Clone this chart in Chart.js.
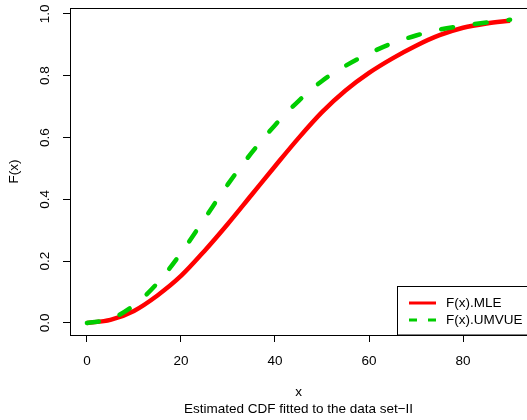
<!DOCTYPE html>
<html>
<head>
<meta charset="utf-8">
<script src="https://cdn.jsdelivr.net/npm/chart.js@4/dist/chart.umd.min.js"></script>
<style>
  body { margin: 0; background: #fff; }
  #wrap { width: 527px; height: 420px; overflow: hidden; }
</style>
</head>
<body>
<div id="wrap"><canvas id="cdfChart" width="527" height="420"></canvas></div>
<script>
// ---- data ----
const xValues = [0, 5, 10, 15, 20, 25, 30, 35, 40, 45, 50, 55, 60, 65, 70, 75, 80, 85, 90];
const mleValues = [0, 0.010, 0.039, 0.089, 0.152, 0.233, 0.321, 0.414, 0.507, 0.598, 0.682, 0.752, 0.809, 0.856, 0.897, 0.931, 0.955, 0.969, 0.978];
const umvueValues = [0, 0.013, 0.057, 0.129, 0.226, 0.337, 0.449, 0.550, 0.640, 0.718, 0.783, 0.832, 0.872, 0.905, 0.930, 0.949, 0.962, 0.972, 0.981];
const xTicks = [0, 20, 40, 60, 80];
const yTicks = [0, 0.2, 0.4, 0.6, 0.8, 1.0];
const seriesLabels = ["F(x).MLE", "F(x).UMVUE"];
const xTitle = "x";
const yTitle = "F(x)";
const subTitle = "Estimated CDF fitted to the data set\u2212II";

const FONT = "'Liberation Sans', Arial, sans-serif";
const FSIZE = 13.5;
const RED = "#ff0000";
const GREEN = "#00cd00";

function toPoints(ys) {
    return xValues.map((x, i) => ({ x: x, y: ys[i] }));
}

/* ==========================================================
   R-style extras: box, rotated y labels, titles, legend
========================================================== */
const rStyle = {
    id: "rStyle",
    afterDraw(chart) {
        const ctx = chart.ctx;
        const a = chart.chartArea;
        const ys = chart.scales.y;

        ctx.save();
        // plot box
        ctx.strokeStyle = "#000";
        ctx.lineWidth = 1;
        ctx.strokeRect(a.left + 0.5, a.top + 0.5, a.right - a.left + 5, a.bottom - a.top);

        ctx.fillStyle = "#000";
        ctx.font = FSIZE + "px " + FONT;
        ctx.textAlign = "center";
        ctx.textBaseline = "middle";

        // y tick labels, rotated like R's las=0
        ys.ticks.forEach(t => {
            const py = ys.getPixelForValue(t.value);
            ctx.save();
            ctx.translate(45.5, py);
            ctx.rotate(-Math.PI / 2);
            ctx.fillText(t.value.toFixed(1), 0, 0);
            ctx.restore();
        });

        // y title
        ctx.save();
        ctx.translate(14, (a.top + a.bottom) / 2);
        ctx.rotate(-Math.PI / 2);
        ctx.fillText(yTitle, 0, 0);
        ctx.restore();

        // x title and sub title
        const cx = (a.left + a.right) / 2;
        ctx.fillText(xTitle, cx, 392);
        ctx.fillText(subTitle, cx, 409);

        // legend
        const lx = 397.5, ly = 286.5;
        ctx.fillStyle = "#fff";
        ctx.fillRect(lx, ly, 140, a.bottom - ly);
        ctx.strokeStyle = "#000";
        ctx.lineWidth = 1;
        ctx.strokeRect(lx, ly, 140, a.bottom - ly);

        const rows = [
            { y: 303, color: RED, dash: [] },
            { y: 320, color: GREEN, dash: [8, 11] }
        ];
        rows.forEach((r, i) => {
            ctx.beginPath();
            ctx.strokeStyle = r.color;
            ctx.lineWidth = 3;
            ctx.setLineDash(r.dash);
            ctx.moveTo(409, r.y);
            ctx.lineTo(436, r.y);
            ctx.stroke();
            ctx.setLineDash([]);
            ctx.fillStyle = "#000";
            ctx.textAlign = "left";
            ctx.fillText(seriesLabels[i], 446, r.y);
        });
        ctx.restore();
    }
};

const ctx = document.getElementById("cdfChart").getContext("2d");

new Chart(ctx, {
    type: "line",
    data: {
        datasets: [
            {
                label: seriesLabels[0],
                data: toPoints(mleValues),
                borderColor: RED,
                borderWidth: 4.5,
                pointRadius: 0,
                cubicInterpolationMode: "monotone",
                order: 1
            },
            {
                label: seriesLabels[1],
                data: toPoints(umvueValues),
                borderColor: GREEN,
                borderWidth: 4.5,
                borderDash: [12, 22],
                borderCapStyle: "round",
                pointRadius: 0,
                cubicInterpolationMode: "monotone",
                order: 0
            }
        ]
    },
    options: {
        responsive: false,
        animation: false,
        layout: { padding: { top: 8, left: 0, right: 0, bottom: 0 } },
        plugins: {
            legend: { display: false },
            tooltip: { enabled: false }
        },
        scales: {
            x: {
                type: "linear",
                min: -3.6,
                max: 93.6,
                afterBuildTicks: s => { s.ticks = xTicks.map(v => ({ value: v })); },
                afterFit: s => { s.height = 85; },
                grid: { drawOnChartArea: false, drawTicks: true, tickLength: 7, color: "#000" },
                border: { display: false },
                ticks: {
                    color: "#000",
                    padding: 11,
                    maxRotation: 0,
                    font: { family: FONT, size: FSIZE }
                }
            },
            y: {
                type: "linear",
                min: -0.039,
                max: 1.019,
                afterBuildTicks: s => { s.ticks = yTicks.map(v => ({ value: v })); },
                afterFit: s => { s.width = 70; },
                grid: { drawOnChartArea: false, drawTicks: true, tickLength: 7, color: "#000" },
                border: { display: false },
                ticks: { display: false }
            }
        }
    },
    plugins: [rStyle]
});
</script>
</body>
</html>
